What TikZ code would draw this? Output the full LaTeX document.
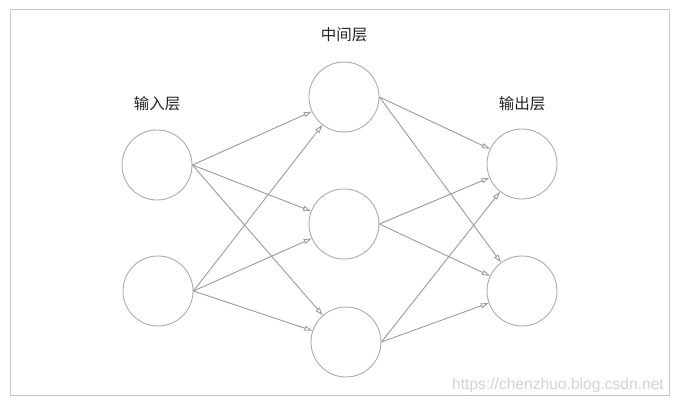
\documentclass[tikz,border=0pt]{standalone}
\usepackage{fontspec}
\setmainfont{Liberation Sans}
\newfontfamily\cjk{Noto Sans CJK SC}
\usetikzlibrary{arrows.meta}
\definecolor{linegray}{HTML}{9A9A9A}
\definecolor{circgray}{HTML}{ABABAB}
\definecolor{framegray}{HTML}{C8C8C8}
\definecolor{wmgray}{HTML}{D2D2D2}
\definecolor{txtgray}{HTML}{222222}
\tikzset{
  neuron/.style={circle, draw=circgray, line width=0.9pt, minimum size=70pt, inner sep=0pt},
  conn/.style={draw=linegray, line width=0.9pt, -{Triangle[open, length=8pt, width=5pt]}},
  layerlabel/.style={font=\cjk\fontsize{15.5}{18}\selectfont, text=txtgray, inner sep=0pt},
  watermark/.style={font=\fontsize{15.6}{18}\selectfont, text=wmgray, inner sep=0pt, anchor=base east}
}
\begin{document}
\begin{tikzpicture}[x=1pt, y=-1pt]
\useasboundingbox (0,0) rectangle (675,403);
\draw[framegray, line width=1pt] (10.5,9.5) rectangle (669.5,395.5);
\node[neuron] (i1) at (157,165) {};
\node[neuron] (i2) at (158,291) {};
\node[neuron] (h1) at (344,97) {};
\node[neuron] (h2) at (344,224) {};
\node[neuron] (h3) at (346,342) {};
\node[neuron] (o1) at (522,164) {};
\node[neuron] (o2) at (522,291) {};
\node[layerlabel] (l1) at (157,104) {输入层};
\node[layerlabel] (l2) at (344,35) {中间层};
\node[layerlabel] (l3) at (522,104) {输出层};
\foreach \s in {i1,i2}{
  \foreach \t in {h1,h2,h3}{
    \draw[conn] (\s.east) -- (\t);
  }
}
\foreach \s in {h1,h2,h3}{
  \foreach \t in {o1,o2}{
    \draw[conn] (\s.east) -- (\t);
  }
}
\node[watermark] (wm) at (664,389) {https://chenzhuo.blog.csdn.net};
\end{tikzpicture}
\end{document}
